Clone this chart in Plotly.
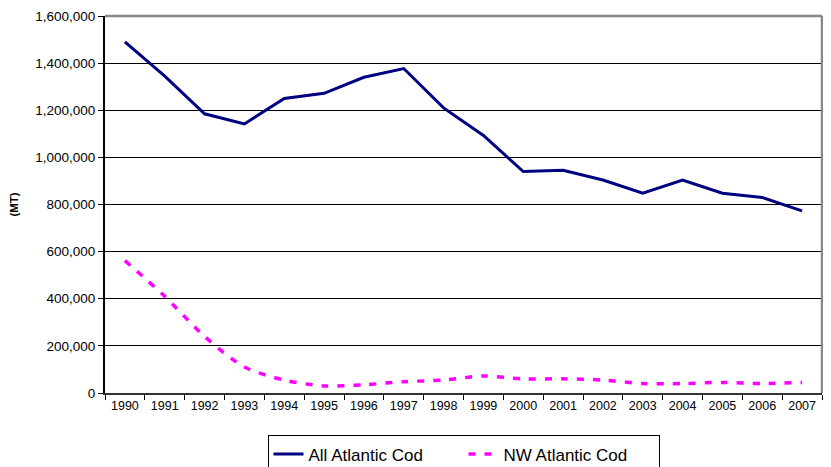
import plotly.graph_objects as go

years = [str(y) for y in range(1990, 2008)]
all_atlantic = [1490000, 1345000, 1185000, 1142000, 1250000, 1272000, 1340000, 1377000,
                1210000, 1093000, 940000, 945000, 904000, 848000, 904000, 848000, 830000, 773000]
nw_atlantic = [562000, 410000, 240000, 110000, 55000, 30000, 35000, 48000,
               55000, 72000, 60000, 60000, 55000, 40000, 40000, 45000, 40000, 45000]

fig = go.Figure()
fig.add_trace(go.Scatter(x=years, y=all_atlantic, mode="lines", name="All Atlantic Cod",
                         line=dict(color="#000080", width=3)))
fig.add_trace(go.Scatter(x=years, y=nw_atlantic, mode="lines", name="NW Atlantic Cod",
                         line=dict(color="#FF00FF", width=3.5, dash="7px,9px",
                                   shape="spline", smoothing=0.8)))

# page body has an 8px margin, so the figure is sized/placed to compensate
fig.update_layout(
    width=823, height=459,
    margin=dict(l=97, r=9, t=8, b=74, autoexpand=False),
    paper_bgcolor="white", plot_bgcolor="white",
    font=dict(family="Liberation Sans, Arial, sans-serif", color="black", size=13),
    showlegend=True,
    legend=dict(orientation="h", x=0.5, xanchor="center", xref="paper",
                y=0.069, yanchor="top", yref="container",
                bordercolor="black", borderwidth=1, font=dict(size=17),
                entrywidth=150, tracegroupgap=0),
    xaxis=dict(type="category", range=[-0.5, 17.5], tickson="boundaries",
               ticks="outside", ticklen=5, tickcolor="black", showline=True,
               linecolor="#333333", linewidth=2, showgrid=False,
               tickfont=dict(size=12.5)),
    yaxis=dict(range=[0, 1600000], dtick=200000, tickformat=",d",
               ticks="outside", ticklen=5, tickcolor="black", showline=True,
               linecolor="black", linewidth=2, showgrid=True, gridcolor="black",
               gridwidth=1, zeroline=False, tickfont=dict(size=13.5),
               title=dict(text="<b>(MT)</b>", font=dict(size=11.5), standoff=19)),
    shapes=[
        dict(type="line", xref="paper", yref="paper", x0=0, x1=1, y0=1, y1=1,
             line=dict(color="#888888", width=2.5)),
        dict(type="line", xref="paper", yref="paper", x0=1, x1=1, y0=0, y1=1,
             line=dict(color="#888888", width=2.5)),
    ],
)

fig.write_html("out.html")
